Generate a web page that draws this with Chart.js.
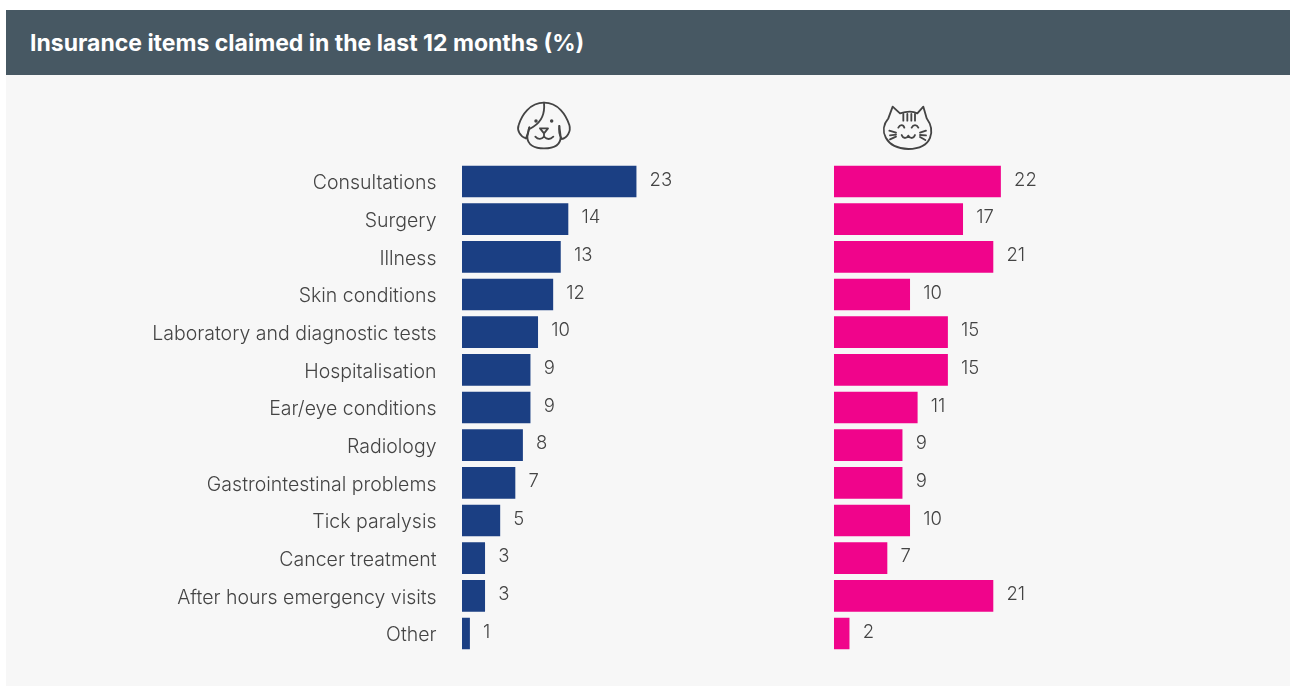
<!DOCTYPE html>
<html>
<head>
<meta charset="utf-8">
<title>Insurance items claimed</title>
<script src="https://cdn.jsdelivr.net/npm/chart.js@4"></script>
<style>
    html, body { margin: 0; padding: 0; background: #fff; }
    #page { position: relative; width: 1290px; height: 686px; overflow: hidden; }
    #panel { position: absolute; left: 6px; top: 10px; width: 1284px; height: 676px; background: #f7f7f7; }
    #header {
        position: absolute; left: 6px; top: 10px; width: 1260px; height: 65px; padding-left: 24px;
        background: #475863; color: #fff;
        font: bold 23px/67px Inter, sans-serif;
    }
    canvas { position: absolute; top: 75px; }
    #dogChart { left: 6px; }
    #catChart { left: 820px; }
    svg { position: absolute; fill: none; stroke: #444; stroke-width: 5.5; stroke-linecap: round; stroke-linejoin: round; }
</style>
</head>
<body>
<div id="page">
    <div id="panel"></div>
    <div id="header">Insurance items claimed in the last 12 months (%)</div>

    <!-- dog icon -->
    <svg style="left:500px;top:90px" width="90" height="70" viewBox="0 0 270 210">
        <path d="M78 145C60 140 50 120 56 105C65 75 90 38 132 38C175 38 198 75 208 105C214 125 200 145 185 147C178 135 176 120 178 108"/>
        <path d="M88 112L82 140C82 165 105 175 132 175C160 175 182 165 182 140L178 108"/>
        <path d="M78 145C82 135 85 125 88 112"/>
        <path d="M132 38C135 70 125 95 100 110C92 115 88 117 86 118"/>
        <circle cx="108" cy="93" r="2.5"/>
        <circle cx="155" cy="93" r="2.5"/>
        <path d="M120 115H144L132 130ZM132 130V140M106 140C115 150 125 148 132 140C140 148 150 150 160 140"/>
    </svg>

    <!-- cat icon -->
    <svg style="left:870px;top:90px" width="80" height="70" viewBox="0 0 240 210">
        <path d="M68 50L90 70C110 64 130 64 142 70L160 50L170 85C195 120 190 175 115 177C45 175 25 120 55 85Z"/>
        <path d="M100 72V92M112 72V92M124 72V92M135 72V92"/>
        <path d="M85 113C90 103 100 103 103 113M125 113C130 103 140 103 145 113"/>
        <path d="M95 135C100 148 112 145 115 137C118 145 130 148 135 135"/>
        <path d="M58 122L78 128M60 136L78 134M60 148L78 140M150 128L168 122M150 135L168 136M150 141L166 150"/>
    </svg>

    <canvas id="dogChart" width="814" height="611"></canvas>
    <canvas id="catChart" width="470" height="611"></canvas>
</div>

<script>
// Values
const categories = [
    'Consultations', 'Surgery', 'Illness', 'Skin conditions',
    'Laboratory and diagnostic tests', 'Hospitalisation', 'Ear/eye conditions',
    'Radiology', 'Gastrointestinal problems', 'Tick paralysis',
    'Cancer treatment', 'After hours emergency visits', 'Other'
];
const dogValues = [23, 14, 13, 12, 10, 9, 9, 8, 7, 5, 3, 3, 1];
const catValues = [22, 17, 21, 10, 15, 15, 11, 9, 9, 10, 7, 21, 2];

const textColor = '#444444';
const fontFamily = 'Inter, sans-serif';

// Draws the number next to each bar
const valueLabels = {
    id: 'valueLabels',
    afterDatasetsDraw(chart) {
        const ctx = chart.ctx;
        const dataset = chart.data.datasets[0];
        ctx.save();
        ctx.font = '300 18.5px ' + fontFamily;
        ctx.fillStyle = textColor;
        ctx.textAlign = 'left';
        ctx.textBaseline = 'middle';
        chart.getDatasetMeta(0).data.forEach((bar, i) => {
            ctx.fillText(dataset.data[i], bar.x + 13.5, bar.y - 1.5);
        });
        ctx.restore();
    }
};

function makeChart(id, values, color, showLabels, padding) {
    new Chart(document.getElementById(id), {
        type: 'bar',
        data: {
            labels: categories,
            datasets: [{
                data: values,
                backgroundColor: color,
                barThickness: 31
            }]
        },
        options: {
            indexAxis: 'y',
            responsive: false,
            animation: false,
            layout: { padding: padding },
            plugins: {
                legend: { display: false },
                tooltip: { enabled: false }
            },
            scales: {
                x: { display: false, min: 0, max: 40 },
                y: {
                    display: showLabels,
                    border: { display: false },
                    grid: { display: false, drawTicks: false },
                    afterFit(scale) {
                        if (showLabels) scale.width = 456;
                        // tick labels should not push the plot area around
                        scale.paddingTop = 0;
                        scale.paddingBottom = 0;
                    },
                    ticks: {
                        color: textColor,
                        padding: 25.5,
                        labelOffset: 2,
                        autoSkip: false,
                        font: { family: fontFamily, size: 19.5, weight: '300' }
                    }
                }
            }
        },
        plugins: [valueLabels]
    });
}

makeChart('dogChart', dogValues, '#1b3f83', true, { top: 87.67, bottom: 33.67, left: 0, right: 55.2 });
makeChart('catChart', catValues, '#f0048b', false, { top: 87.67, bottom: 33.67, left: 14, right: 153.2 });
</script>
</body>
</html>
